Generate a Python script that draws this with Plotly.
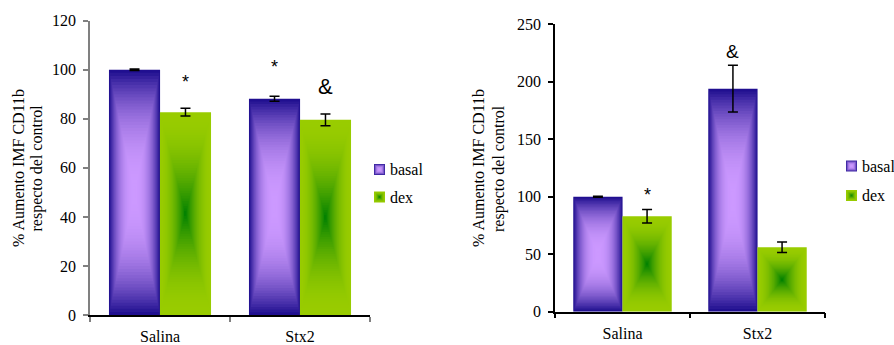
import plotly.graph_objects as go

# ---------------- data ----------------
categories = ["Salina", "Stx2"]
series_names = ["basal", "dex"]

left_basal = [100.0, 88.2]
left_basal_err = [0.3, 1.0]
left_dex = [82.7, 79.6]
left_dex_err = [1.6, 2.4]

right_basal = [100.0, 194.0]
right_basal_err = [0.5, 20.3]
right_dex = [83.0, 56.0]
right_dex_err = [5.8, 4.6]

left_yticks = [0, 20, 40, 60, 80, 100, 120]
right_yticks = [0, 50, 100, 150, 200, 250]

# significance marks: (symbol, category index, series, y position)
left_marks = [("*", 0, "dex", 95.0), ("*", 1, "basal", 101.0), ("&", 1, "dex", 93.0)]
right_marks = [("*", 0, "dex", 101.5), ("&", 1, "basal", 226.5)]

y_title_lines = ["% Aumento IMF CD11b", "respecto del control"]

# ---------------- styles ----------------
W, H = 894, 345
SERIF = "Liberation Serif, Times New Roman, serif"
SANS = "Liberation Sans, Arial, sans-serif"
BAR_W = 0.365
OFFS = {"basal": -0.182, "dex": 0.182}
EDGE = {"basal": (26, 11, 140), "dex": (153, 204, 0)}
CENTER = {"basal": (204, 153, 255), "dex": (0, 128, 0)}
CURVE = {"basal": lambda t: 1 - (1 - t) ** 2.5, "dex": lambda t: t ** 2}
N_LEVELS = 40


def mix(series, t):
    s = CURVE[series](t)
    a, b = EDGE[series], CENTER[series]
    return "rgb(%d,%d,%d)" % tuple(round(x + (y - x) * s) for x, y in zip(a, b))


def px_x(p):
    return p / W


def px_y(p):
    return (H - p) / H


fig = go.Figure()


def add_panel(xa, ya, data, errs):
    for name in series_names:
        vals = data[name]
        xs = [i + OFFS[name] for i in range(len(categories))]
        for k in range(N_LEVELS):
            t = k / N_LEVELS
            shrink = 1 - t
            fig.add_trace(go.Bar(
                x=xs, y=[v * shrink for v in vals], base=[v * t / 2 for v in vals],
                width=BAR_W * shrink, marker=dict(color=mix(name, (k + 0.5) / N_LEVELS), line=dict(width=0)),
                xaxis=xa, yaxis=ya, showlegend=False, hoverinfo="skip"))
    for name in series_names:
        xs = [i + OFFS[name] for i in range(len(categories))]
        fig.add_trace(go.Scatter(
            x=xs, y=data[name], mode="markers",
            marker=dict(size=1, color="rgba(0,0,0,0)"),
            error_y=dict(type="data", array=errs[name], color="black", thickness=1.5, width=5),
            xaxis=xa, yaxis=ya, showlegend=False, hoverinfo="skip"))


add_panel("x", "y", {"basal": left_basal, "dex": left_dex},
          {"basal": left_basal_err, "dex": left_dex_err})
add_panel("x2", "y2", {"basal": right_basal, "dex": right_dex},
          {"basal": right_basal_err, "dex": right_dex_err})

annotations = []
for marks, xr, yr in [(left_marks, "x", "y"), (right_marks, "x2", "y2")]:
    for sym, ci, ser, yv in marks:
        size = 18
        if sym == "&":
            size = 22 if xr == "x" else 19
        annotations.append(dict(text=sym, x=ci + OFFS[ser], y=yv, xref=xr, yref=yr,
                                showarrow=False, xanchor="center", yanchor="middle",
                                font=dict(family=SANS, size=size, color="black")))

# y titles
for xs_px in [(18.5, 36.0), (478.5, 498.5)]:
    for line, xp in zip(y_title_lines, xs_px):
        annotations.append(dict(text=line, x=px_x(xp), y=px_y(168.5), xref="paper", yref="paper",
                                textangle=-90, showarrow=False, xanchor="center", yanchor="middle",
                                font=dict(family=SERIF, size=16, color="black")))

# legends (swatch + text)
shapes = []
for (sx, tx, ys) in [(374, 389, (169.5, 197)), (846, 860.7, (166, 195.5))]:
    for name, yc in zip(series_names, ys):
        size = 11
        n = 6
        for k in range(n):
            t = k / n
            half = size / 2 * (1 - t)
            cx = sx + size / 2
            shapes.append(dict(type="rect", xref="paper", yref="paper",
                               x0=px_x(cx - half), x1=px_x(cx + half),
                               y0=px_y(yc + half), y1=px_y(yc - half),
                               fillcolor=mix(name, (k + 0.5) / n), line=dict(width=0), layer="above"))
        annotations.append(dict(text=name, x=px_x(tx - 1), y=px_y(yc), xref="paper", yref="paper",
                                showarrow=False, xanchor="left", yanchor="middle",
                                font=dict(family=SERIF, size=16, color="black")))


def xaxis_cfg(x0, x1, linecol, tickcol, anchor, lab_gap):
    return dict(domain=[px_x(x0), px_x(x1)], range=[-0.5, 1.5], tickmode="array",
                tickvals=[0, 1], ticktext=categories, ticks="outside", ticklen=lab_gap,
                tickcolor="rgba(0,0,0,0)", showline=True, linecolor=linecol, linewidth=1.5,
                showgrid=False, zeroline=False, anchor=anchor, fixedrange=True, automargin=False,
                minor=dict(tickmode="array", tickvals=[-0.5, 0.5, 1.5], ticks="outside",
                           ticklen=5, tickcolor=tickcol, tickwidth=1.5),
                tickfont=dict(family=SERIF, size=16, color="black"))


def yaxis_cfg(y0, y1, rng, tickvals, col, anchor):
    return dict(domain=[px_y(y0), px_y(y1)], range=rng, tickmode="array", tickvals=tickvals,
                ticks="outside", ticklen=5, tickcolor=col, tickwidth=1.5, showline=True,
                linecolor=col, linewidth=1.5, showgrid=False, zeroline=False, anchor=anchor,
                ticklabelstandoff=4, fixedrange=True, automargin=False,
                tickfont=dict(family=SERIF, size=16, color="black"))


fig.update_layout(
    template="none",
    width=W, height=H, margin=dict(l=0, r=0, t=0, b=0, autoexpand=False),
    paper_bgcolor="white", plot_bgcolor="white", barmode="overlay", showlegend=False,
    xaxis=xaxis_cfg(90, 370, "black", "#808080", "y", 6),
    yaxis=yaxis_cfg(315, 20.7, [0, 120], left_yticks, "#808080", "x"),
    xaxis2=xaxis_cfg(555, 825, "black", "black", "y2", 6),
    yaxis2=yaxis_cfg(311.7, 24.3, [0, 250], right_yticks, "black", "x2"),
    annotations=annotations, shapes=shapes,
)

fig.write_html("out.html")
